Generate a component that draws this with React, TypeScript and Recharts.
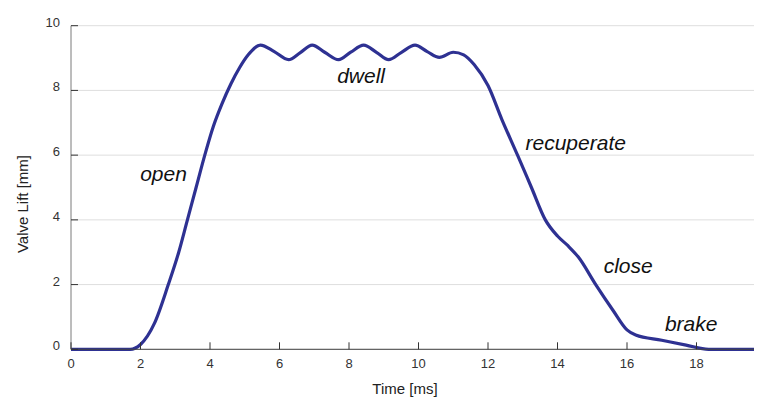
import { LineChart, Line, XAxis, YAxis, CartesianGrid, ReferenceDot } from 'recharts';

// time in ms, lift in mm
const timeMs = [
  0, 1.7, 2.0, 2.4, 2.8, 3.1, 3.35, 3.6, 3.85, 4.1, 4.35, 4.6, 4.85, 5.1, 5.45,
  5.85, 6.26, 6.6, 6.94, 7.3, 7.7, 8.05, 8.42, 8.8, 9.14, 9.5, 9.9, 10.25, 10.6,
  11.0, 11.3, 11.6, 12.0, 12.4, 12.85, 13.25, 13.65, 14.0, 14.3, 14.6, 15.1,
  15.6, 16.0, 16.25, 17.0, 17.7, 18.35, 20,
];
const liftMm = [
  0, 0, 0.15, 0.8, 2.0, 3.0, 4.0, 5.0, 6.0, 6.9, 7.6, 8.2, 8.7, 9.1, 9.4,
  9.2, 8.95, 9.17, 9.4, 9.18, 8.95, 9.18, 9.4, 9.17, 8.95, 9.17, 9.4, 9.2, 9.02,
  9.18, 9.1, 8.8, 8.15, 7.1, 6.0, 5.0, 4.0, 3.5, 3.2, 2.85, 2.0,
  1.2, 0.6, 0.44, 0.28, 0.13, 0, 0,
];
const xTicks = [0, 2, 4, 6, 8, 10, 12, 14, 16, 18, 20];
const yTicks = [0, 2, 4, 6, 8, 10];

const phaseLabels = [
  { text: 'open', t: 1.99, v: 5.2 },
  { text: 'dwell', t: 7.66, v: 8.22 },
  { text: 'recuperate', t: 13.08, v: 6.16 },
  { text: 'close', t: 15.33, v: 2.35 },
  { text: 'brake', t: 17.09, v: 0.57 },
];

const data = timeMs.map((t, i) => ({ t, lift: liftMm[i] }));

const FONT = '"Liberation Sans", Arial, Helvetica, sans-serif';

const BottomTick = (props: any) => {
  const { x, y, payload } = props;
  // last label sits slightly inside, as in the original
  const tx = payload.value === 20 ? x - 4 : x;
  return (
    <g>
      <line x1={x} y1={y} x2={x} y2={y - 7} stroke="#333" />
      <text x={tx} y={y + 19} textAnchor="middle" fontSize={13} fill="#333" fontFamily={FONT}>
        {payload.value}
      </text>
    </g>
  );
};

const TopTick = (props: any) => {
  const { x, y } = props;
  return <line x1={x} y1={y} x2={x} y2={y + 7} stroke="#333" />;
};

const LeftTick = (props: any) => {
  const { x, y, payload } = props;
  return (
    <g>
      <line x1={x} y1={y} x2={x + 7} y2={y} stroke="#333" />
      <text x={x - 11} y={y + 1} textAnchor="end" fontSize={13} fill="#333" fontFamily={FONT}>
        {payload.value}
      </text>
    </g>
  );
};

const RightTick = (props: any) => {
  const { x, y } = props;
  return <line x1={x} y1={y} x2={x - 7} y2={y} stroke="#333" />;
};

export default function App() {
  return (
    <div style={{ width: 754, height: 390, overflow: 'hidden' }}>
      <LineChart
        width={800}
        height={390}
        data={data}
        margin={{ top: 17.7, right: 40, left: 23, bottom: 18.7 }}
      >
        <CartesianGrid xAxisId="b" yAxisId="l" vertical={false} stroke="#dedede" />
        <XAxis
          xAxisId="b"
          dataKey="t"
          type="number"
          domain={[0, 20]}
          ticks={xTicks}
          height={30}
          tickSize={0}
          tickMargin={0}
          tickLine={false}
          tick={<BottomTick />}
          stroke="#444"
          label={{
            content: () => (
              <text x={397} y={386} textAnchor="middle" fontSize={15} fill="#222" fontFamily={FONT}>
                Time [ms]
              </text>
            ),
          }}
        />
        <XAxis
          xAxisId="top"
          orientation="top"
          dataKey="t"
          type="number"
          domain={[0, 20]}
          ticks={xTicks}
          height={0}
          tickSize={0}
          tickMargin={0}
          tickLine={false}
          tick={<TopTick />}
          stroke="#444"
        />
        <YAxis
          yAxisId="l"
          type="number"
          domain={[0, 10]}
          ticks={yTicks}
          width={40}
          tickSize={0}
          tickMargin={0}
          tickLine={false}
          tick={<LeftTick />}
          stroke="#7a7a7a"
          label={{
            content: () => (
              <text
                x={20}
                y={196}
                transform="rotate(-90 20 196)"
                textAnchor="middle"
                fontSize={15}
                fill="#222"
                fontFamily={FONT}
              >
                Valve Lift [mm]
              </text>
            ),
          }}
        />
        <YAxis
          yAxisId="r"
          orientation="right"
          type="number"
          domain={[0, 10]}
          ticks={yTicks}
          width={2}
          tickSize={0}
          tickMargin={0}
          tickLine={false}
          tick={<RightTick />}
          stroke="#444"
        />
        <Line
          xAxisId="b"
          yAxisId="l"
          type="monotone"
          dataKey="lift"
          stroke="#2e3192"
          strokeWidth={3.2}
          dot={false}
          isAnimationActive={false}
        />
        {phaseLabels.map((p) => (
          <ReferenceDot
            key={p.text}
            xAxisId="b"
            yAxisId="l"
            x={p.t}
            y={p.v}
            r={0}
            shape={(s: any) => (
              <text
                x={s.cx}
                y={s.cy}
                fontSize={21}
                fontStyle="italic"
                fill="#111"
                fontFamily={FONT}
              >
                {p.text}
              </text>
            )}
          />
        ))}
      </LineChart>
    </div>
  );
}
